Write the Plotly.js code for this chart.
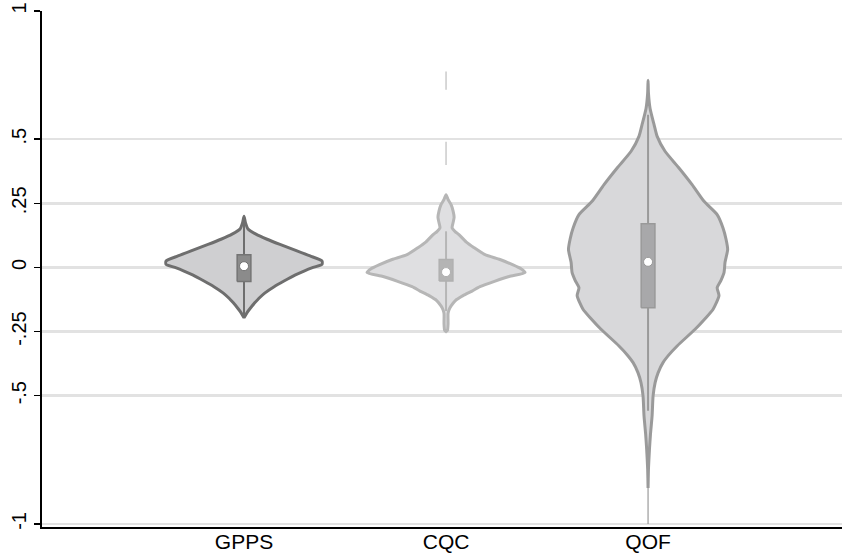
<!DOCTYPE html>
<html>
<head>
<meta charset="utf-8">
<script src="https://cdn.plot.ly/plotly-3.0.1.min.js"></script>
<style>html,body{margin:0;padding:0;background:#fff;}#chart{width:842px;height:555px;}</style>
</head>
<body>
<div id="chart"></div>
<script>
// ---- Data ----
const categories = ['GPPS', 'CQC', 'QOF'];
const categoryPositions = [1, 2, 3];

// Violin outlines: y levels and half-widths (in category units)
const gppsY = [0.20, 0.175, 0.15, 0.13, 0.11, 0.09, 0.065, 0.045, 0.025, 0.012, 0.0, -0.014, -0.03, -0.053, -0.075, -0.099, -0.12, -0.137, -0.16, -0.176, -0.196];
const gppsHalfWidth = [0, 0.007, 0.020, 0.059, 0.114, 0.178, 0.262, 0.327, 0.386, 0.386, 0.342, 0.297, 0.252, 0.198, 0.149, 0.104, 0.074, 0.054, 0.030, 0.015, 0];

const cqcY = [0.284, 0.265, 0.245, 0.22, 0.196, 0.175, 0.154, 0.14, 0.128, 0.10, 0.077, 0.05, 0.031, 0.01, -0.005, -0.02, -0.035, -0.053, -0.075, -0.092, -0.11, -0.13, -0.15, -0.165, -0.18, -0.22, -0.245, -0.25];
const cqcHalfWidth = [0, 0.010, 0.025, 0.035, 0.040, 0.035, 0.030, 0.045, 0.064, 0.099, 0.139, 0.193, 0.267, 0.332, 0.371, 0.391, 0.312, 0.243, 0.168, 0.129, 0.084, 0.045, 0.025, 0.015, 0.010, 0.010, 0.007, 0];

const qofY = [0.73, 0.68, 0.62, 0.556, 0.511, 0.453, 0.388, 0.323, 0.258, 0.206, 0.154, 0.11, 0.07, 0.02, -0.02, -0.05, -0.079, -0.11, -0.163, -0.2, -0.241, -0.306, -0.34, -0.371, -0.41, -0.449, -0.5, -0.579, -0.65, -0.708, -0.786, -0.86];
const qofHalfWidth = [0, 0.002, 0.010, 0.030, 0.045, 0.084, 0.153, 0.218, 0.277, 0.342, 0.371, 0.386, 0.394, 0.381, 0.376, 0.361, 0.342, 0.351, 0.322, 0.282, 0.233, 0.144, 0.104, 0.074, 0.050, 0.035, 0.025, 0.020, 0.012, 0.007, 0.002, 0];

// Box statistics: [lower whisker, q1, median, q3, upper whisker]
const gppsBox = [-0.19, -0.055, 0.005, 0.05, 0.19];
const cqcBox = [-0.17, -0.053, -0.018, 0.031, 0.141];
const qofBox = [-0.559, -0.157, 0.022, 0.17, 0.595];

// Sparse tails (thin density segments)
const cqcTails = [[0.40, 0.49], [0.693, 0.764]];
const qofTails = [[-1.0, -0.86]];

// Y tick labels
const yTickVals = [1, 0.5, 0.25, 0, -0.25, -0.5, -1];
const yTickText = ['1', '.5', '.25', '0', '-.25', '-.5', '-1'];

// ---- Styles ----
const styles = [
  {fill: '#cfcfd1', line: '#6e6e6e', box: '#8b8b8b', boxLine: '#747474', tail: '#6e6e6e'},
  {fill: '#dfdfe1', line: '#b6b6b6', box: '#b4b4b4', boxLine: '#b0b0b0', tail: '#bdbdbd'},
  {fill: '#d8d8da', line: '#9a9a9a', box: '#a8a8aa', boxLine: '#999999', tail: '#9a9a9a'}
];
const boxHalf = 0.034;

const violinY = [gppsY, cqcY, qofY];
const violinW = [gppsHalfWidth, cqcHalfWidth, qofHalfWidth];
const boxes = [gppsBox, cqcBox, qofBox];
const tails = [[], cqcTails, qofTails];

const traces = [];
categoryPositions.forEach((c, i) => {
  const ys = violinY[i], ws = violinW[i], st = styles[i];
  const px = [], py = [];
  for (let k = 0; k < ys.length; k++) { px.push(c + ws[k]); py.push(ys[k]); }
  for (let k = ys.length - 1; k >= 0; k--) { px.push(c - ws[k]); py.push(ys[k]); }
  tails[i].forEach(t => {
    traces.push({x: [c, c], y: t, mode: 'lines', line: {color: st.tail, width: 1.2}, hoverinfo: 'skip', showlegend: false});
  });
  traces.push({
    x: px, y: py, mode: 'lines', fill: 'toself', fillcolor: st.fill,
    line: {color: st.line, width: 3, shape: 'spline', smoothing: 0.6},
    hoverinfo: 'skip', showlegend: false
  });
  const b = boxes[i];
  traces.push({x: [c, c], y: [b[0], b[4]], mode: 'lines', line: {color: st.line, width: 2}, hoverinfo: 'skip', showlegend: false});
  traces.push({
    x: [c - boxHalf, c + boxHalf, c + boxHalf, c - boxHalf, c - boxHalf],
    y: [b[1], b[1], b[3], b[3], b[1]],
    mode: 'lines', fill: 'toself', fillcolor: st.box,
    line: {color: st.boxLine, width: 1.5}, hoverinfo: 'skip', showlegend: false
  });
  traces.push({
    x: [c], y: [b[2]], mode: 'markers',
    marker: {color: '#ffffff', size: 9, line: {color: st.boxLine, width: 1}},
    hoverinfo: 'skip', showlegend: false
  });
});

const layout = {
  width: 842, height: 555,
  margin: {l: 42, r: 0, t: 11, b: 28},
  paper_bgcolor: '#ffffff', plot_bgcolor: '#ffffff',
  font: {family: 'Liberation Sans, Arial, sans-serif', color: '#000'},
  showlegend: false,
  xaxis: {
    range: [0, 3.96], tickvals: categoryPositions, ticktext: categories,
    showgrid: false, zeroline: false, showline: true, linecolor: '#000', linewidth: 2,
    ticks: '', ticklabelstandoff: -5, tickfont: {size: 21, color: '#000'}, fixedrange: true
  },
  yaxis: {
    range: [-1.012, 1.0], tickvals: yTickVals, ticktext: yTickText,
    tickangle: -90, ticks: 'outside', ticklen: 6, tickwidth: 1.5, tickcolor: '#000',
    showgrid: true, gridcolor: '#e2e2e2', gridwidth: 2.5, zeroline: false,
    showline: true, linecolor: '#000', linewidth: 2,
    tickfont: {size: 20, color: '#000'}, fixedrange: true
  }
};

Plotly.newPlot('chart', traces, layout, {displayModeBar: false, staticPlot: true});
</script>
</body>
</html>
